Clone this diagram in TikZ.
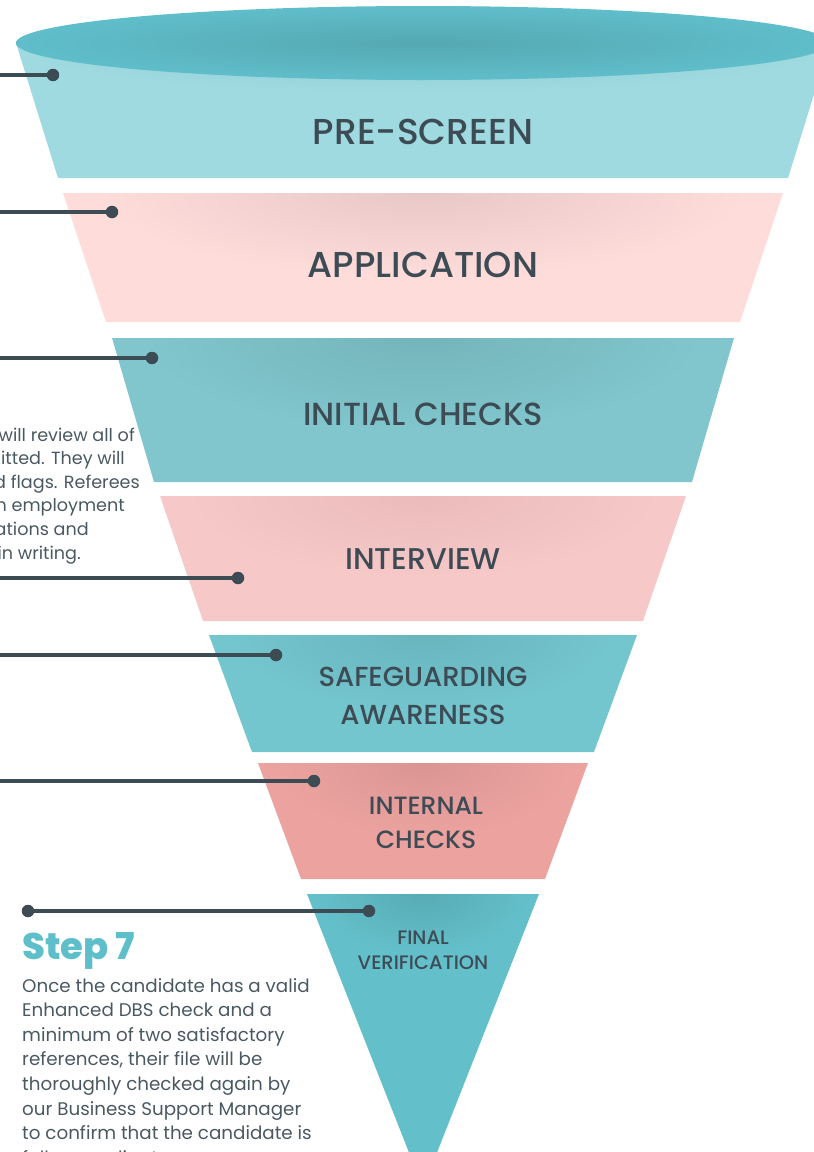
\documentclass[tikz,border=0pt]{standalone}
\usepackage{fontspec}
\setmainfont{Poppins}
\newfontfamily\medfont{Poppins Medium}
\newfontfamily\heavyfont{Poppins ExtraBold}
\usepackage{xcolor}
\definecolor{ink}{HTML}{3D4B55}
\definecolor{bodyink}{HTML}{4A5961}
\definecolor{stepteal}{HTML}{5EBFCB}
\definecolor{rimout}{HTML}{5FBECA}
\definecolor{rimin}{HTML}{55A8B2}
\definecolor{tealA}{HTML}{9FDAE1}
\definecolor{tealAdark}{HTML}{8FCAD2}
\definecolor{pinkA}{HTML}{FDDCDA}
\definecolor{pinkAdark}{HTML}{E8C8C7}
\definecolor{tealB}{HTML}{80C6CC}
\definecolor{tealBdark}{HTML}{74B5BB}
\definecolor{pinkB}{HTML}{F6C8C8}
\definecolor{pinkBdark}{HTML}{EABBBA}
\definecolor{tealC}{HTML}{73C5CE}
\definecolor{tealCdark}{HTML}{69B5BE}
\definecolor{pinkC}{HTML}{ECA3A0}
\definecolor{pinkCdark}{HTML}{DA9593}
\definecolor{tealD}{HTML}{63C0CA}
\definecolor{tealDdark}{HTML}{58ABB5}

% one slice of the funnel: top y, bottom y, top half width, bottom half width, colour, shadow colour
\newcommand{\funnelband}[6]{%
  \fill[#5] ({423-#3},#1) -- ({423-#4},#2) -- ({423+#4},#2) -- ({423+#3},#1) -- cycle;
  \begin{scope}
    \clip ({423-#3},#1) -- ({423-#4},#2) -- ({423+#4},#2) -- ({423+#3},#1) -- cycle;
    \shade[inner color=#6, outer color=#5] (423,#1) ellipse ({0.9*#3} and {0.65*(#2-#1)});
  \end{scope}}

\tikzset{
  stage/.style={text=ink, align=center, inner sep=0pt},
  dot/.style={circle, fill=ink, inner sep=0pt, minimum size=12.5pt},
  link/.style={draw=ink, line width=3.2pt},
  bodytext/.style={text=bodyink, inner sep=0pt, font=\fontsize{18.3}{24}\selectfont}
}

\begin{document}
\begin{tikzpicture}[x=1pt, y=-1pt]
\useasboundingbox (0,0) rectangle (814,1152);
\clip (0,0) rectangle (814,1152);

% funnel slices
\fill[tealA] (16,43) -- (58,178) -- (788,178) -- (830,43) -- cycle;
\begin{scope}
  \clip (16,43) -- (58,178) -- (788,178) -- (830,43) -- cycle;
  \shade[inner color=tealAdark, outer color=tealA] (423,52) ellipse (400 and 40);
\end{scope}
\shade[inner color=rimin, outer color=rimout] (423,43) ellipse (407 and 37);

\funnelband{193}{322}{360}{317}{pinkA}{pinkAdark}
\funnelband{338}{482}{311}{269}{tealB}{tealBdark}
\funnelband{496}{621}{263}{220}{pinkB}{pinkBdark}
\funnelband{635}{752}{214}{171}{tealC}{tealCdark}
\funnelband{763}{879}{165}{122}{pinkC}{pinkCdark}

\fill[tealD] (307,894) -- (423,1188) -- (539,894) -- cycle;
\begin{scope}
  \clip (307,894) -- (423,1188) -- (539,894) -- cycle;
  \shade[inner color=tealDdark, outer color=tealD] (423,894) ellipse (110 and 60);
\end{scope}

% stage names
\node[stage, font=\medfont\fontsize{36}{40}\selectfont] (prescreen) at (423,132) {PRE-SCREEN};
\node[stage, font=\medfont\fontsize{36}{40}\selectfont] (application) at (423,265) {APPLICATION};
\node[stage, font=\medfont\fontsize{32}{36}\selectfont] (initial) at (423,414) {INITIAL CHECKS};
\node[stage, font=\medfont\fontsize{30}{36}\selectfont] (interview) at (423,559) {INTERVIEW};
\node[stage, font=\medfont\fontsize{27.5}{38}\selectfont] (safeguarding) at (423,696) {SAFEGUARDING\\AWARENESS};
\node[stage, font=\medfont\fontsize{25}{34}\selectfont] (internal) at (426,823) {INTERNAL\\CHECKS};
\node[stage, font=\medfont\fontsize{19.5}{25}\selectfont] (final) at (423,950) {FINAL\\VERIFICATION};

% pointer lines
\node[dot] (d1) at (53,75) {};
\node[dot] (d2) at (112,212) {};
\node[dot] (d3) at (152,358) {};
\node[dot] (d4) at (238,578) {};
\node[dot] (d5) at (276,655) {};
\node[dot] (d6) at (314,781) {};
\node[dot] (d7) at (369,911) {};
\node[dot] (d7a) at (28,911) {};
\coordinate (e1) at (-10,75);
\coordinate (e2) at (-10,212);
\coordinate (e3) at (-10,358);
\coordinate (e4) at (-10,578);
\coordinate (e5) at (-10,655);
\coordinate (e6) at (-10,781);
\draw[link] (e1) -- (d1);
\draw[link] (e2) -- (d2);
\draw[link] (e3) -- (d3);
\draw[link] (e4) -- (d4);
\draw[link] (e5) -- (d5);
\draw[link] (e6) -- (d6);
\draw[link] (d7a) -- (d7);

% step 3 text, running in from the left
\foreach \x/\t [count=\i] in {135/will review all of, 125/itted. They will, 140/d flags. Referees, 125/n employment, 89/ations and, 81/in writing.}
  \node[bodytext, font=\fontsize{17.6}{24}\selectfont, anchor=base east] (s3l\i) at (\x,{441+23.6*(\i-1)}) {\t};

% step 7
\node[anchor=base west, inner sep=0pt, text=stepteal, font=\heavyfont\fontsize{37}{40}\selectfont] (step7) at (22,959) {Step 7};
\foreach \t [count=\i] in {Once the candidate has a valid, Enhanced DBS check and a, minimum of two satisfactory, {references, their file will be}, thoroughly checked again by, our Business Support Manager, to confirm that the candidate is, fully compliant.}
  \node[bodytext, anchor=base west] (s7l\i) at (22,{992+24.6*(\i-1)}) {\t};
\end{tikzpicture}
\end{document}
